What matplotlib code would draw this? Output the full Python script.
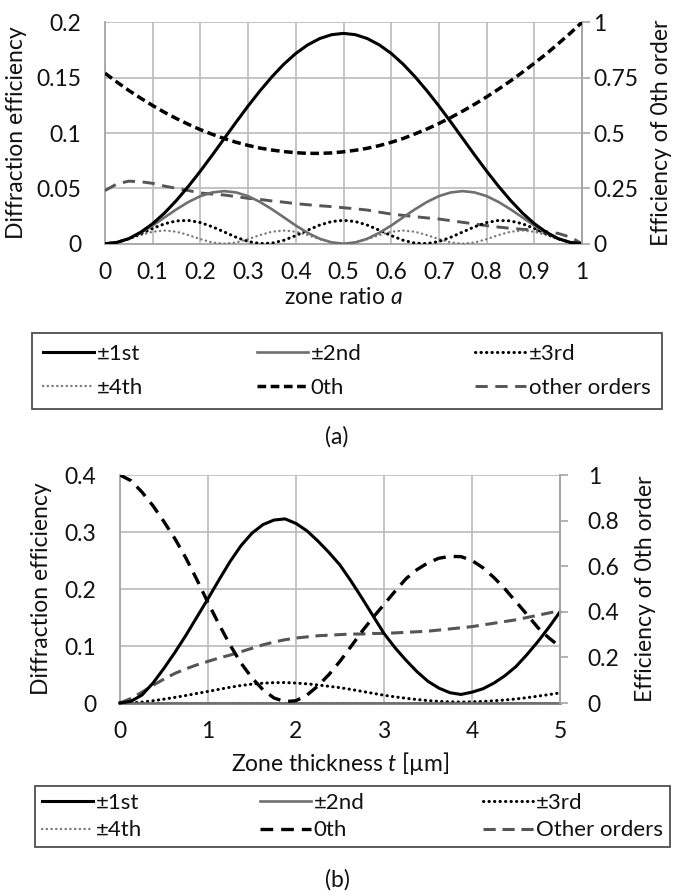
import matplotlib
matplotlib.use('Agg')
import matplotlib.pyplot as plt
from matplotlib.lines import Line2D

plt.rcParams['font.family'] = ['Lato', 'DejaVu Sans']
plt.rcParams['mathtext.fontset'] = 'custom'
plt.rcParams['mathtext.rm'] = 'Lato'
plt.rcParams['mathtext.it'] = 'Lato:italic'

# ---------------- data (a) : zone ratio ----------------
a_ratio = [0.000, 0.025, 0.050, 0.075, 0.100, 0.125, 0.150, 0.175, 0.200, 0.225,
           0.250, 0.275, 0.300, 0.325, 0.350, 0.375, 0.400, 0.425, 0.450, 0.475,
           0.500, 0.525, 0.550, 0.575, 0.600, 0.625, 0.650, 0.675, 0.700, 0.725,
           0.750, 0.775, 0.800, 0.825, 0.850, 0.875, 0.900, 0.925, 0.950, 0.975, 1.000]
a_first = [0, 0.0012, 0.0046, 0.0104, 0.0181, 0.0278, 0.0392, 0.0519, 0.0656, 0.0801,
           0.0950, 0.1099, 0.1244, 0.1381, 0.1508, 0.1622, 0.1719, 0.1796, 0.1853, 0.1888,
           0.1900, 0.1888, 0.1853, 0.1796, 0.1719, 0.1622, 0.1508, 0.1381, 0.1244, 0.1099,
           0.0950, 0.0801, 0.0656, 0.0519, 0.0392, 0.0278, 0.0181, 0.0104, 0.0046, 0.0012, 0]
a_second = [0, 0.0012, 0.0045, 0.0098, 0.0164, 0.0238, 0.0311, 0.0377, 0.0430, 0.0463,
            0.0475, 0.0463, 0.0430, 0.0377, 0.0311, 0.0238, 0.0164, 0.0098, 0.0045, 0.0012,
            0, 0.0012, 0.0045, 0.0098, 0.0164, 0.0238, 0.0311, 0.0377, 0.0430, 0.0463,
            0.0475, 0.0463, 0.0430, 0.0377, 0.0311, 0.0238, 0.0164, 0.0098, 0.0045, 0.0012, 0]
a_third = [0, 0.0012, 0.0044, 0.0089, 0.0138, 0.0180, 0.0206, 0.0210, 0.0191, 0.0153,
           0.0106, 0.0058, 0.0020, 0.0001, 0.0005, 0.0031, 0.0073, 0.0122, 0.0168, 0.0200,
           0.0211, 0.0200, 0.0168, 0.0122, 0.0073, 0.0031, 0.0005, 0.0001, 0.0020, 0.0058,
           0.0106, 0.0153, 0.0191, 0.0210, 0.0206, 0.0180, 0.0138, 0.0089, 0.0044, 0.0012, 0]
a_fourth = [0, 0.0011, 0.0041, 0.0078, 0.0108, 0.0119, 0.0108, 0.0078, 0.0041, 0.0011,
            0, 0.0011, 0.0041, 0.0078, 0.0108, 0.0119, 0.0108, 0.0078, 0.0041, 0.0011,
            0, 0.0011, 0.0041, 0.0078, 0.0108, 0.0119, 0.0108, 0.0078, 0.0041, 0.0011,
            0, 0.0011, 0.0041, 0.0078, 0.0108, 0.0119, 0.0108, 0.0078, 0.0041, 0.0011, 0]
a_zeroth = [0.770, 0.730, 0.692, 0.657, 0.624, 0.593, 0.565, 0.539, 0.515, 0.494,
            0.475, 0.458, 0.444, 0.432, 0.423, 0.416, 0.411, 0.408, 0.408, 0.410,
            0.415, 0.422, 0.431, 0.443, 0.458, 0.475, 0.496, 0.518, 0.543, 0.570,
            0.599, 0.630, 0.663, 0.698, 0.735, 0.774, 0.815, 0.857, 0.903, 0.950, 1.000]
a_other = [0.048, 0.054, 0.0565, 0.056, 0.0545, 0.052, 0.050, 0.048, 0.0458, 0.0448,
           0.0440, 0.0425, 0.041, 0.040, 0.0386, 0.0375, 0.0362, 0.0352, 0.0343, 0.0335,
           0.0325, 0.0315, 0.0304, 0.0285, 0.0268, 0.0256, 0.0244, 0.0233, 0.0223, 0.0208,
           0.0193, 0.0178, 0.0163, 0.0150, 0.0139, 0.0130, 0.0123, 0.0110, 0.0093, 0.0060, 0.0]

a_xticks = [0, 0.1, 0.2, 0.3, 0.4, 0.5, 0.6, 0.7, 0.8, 0.9, 1.0]
a_xticklabels = ['0', '0.1', '0.2', '0.3', '0.4', '0.5', '0.6', '0.7', '0.8', '0.9', '1']
a_yticks = [0, 0.05, 0.1, 0.15, 0.2]
a_yticklabels = ['0', '0.05', '0.1', '0.15', '0.2']
a_rticks = [0, 0.25, 0.5, 0.75, 1.0]
a_rticklabels = ['0', '0.25', '0.5', '0.75', '1']

# ---------------- data (b) : zone thickness ----------------
b_t = [0.000, 0.125, 0.250, 0.375, 0.500, 0.625, 0.750, 0.875, 1.000, 1.125,
       1.250, 1.375, 1.500, 1.625, 1.750, 1.875, 2.000, 2.125, 2.250, 2.375,
       2.500, 2.625, 2.750, 2.875, 3.000, 3.125, 3.250, 3.375, 3.500, 3.625,
       3.750, 3.875, 4.000, 4.125, 4.250, 4.375, 4.500, 4.625, 4.750, 4.875, 5.000]
b_first = [0, 0.003, 0.014, 0.035, 0.061, 0.089, 0.119, 0.151, 0.183, 0.216,
           0.248, 0.276, 0.298, 0.313, 0.321, 0.323, 0.315, 0.302, 0.284, 0.264,
           0.242, 0.214, 0.184, 0.153, 0.122, 0.097, 0.075, 0.055, 0.038, 0.026,
           0.018, 0.015, 0.019, 0.025, 0.035, 0.048, 0.064, 0.085, 0.108, 0.133, 0.160]
b_second = [0, 0, 0, 0, 0, 0, 0, 0, 0, 0, 0, 0, 0, 0, 0, 0, 0, 0, 0, 0, 0,
            0, 0, 0, 0, 0, 0, 0, 0, 0, 0, 0, 0, 0, 0, 0, 0, 0, 0, 0, 0]
b_third = [0, 0.0003, 0.0016, 0.0039, 0.0068, 0.0099, 0.0132, 0.0168, 0.0203, 0.0240,
           0.0276, 0.0307, 0.0331, 0.0348, 0.0357, 0.0359, 0.0350, 0.0336, 0.0316, 0.0293,
           0.0269, 0.0238, 0.0204, 0.0170, 0.0136, 0.0108, 0.0083, 0.0061, 0.0042, 0.0029,
           0.0020, 0.0017, 0.0021, 0.0028, 0.0039, 0.0053, 0.0071, 0.0094, 0.0120, 0.0148, 0.0178]
b_fourth = [0, 0, 0, 0, 0, 0, 0, 0, 0, 0, 0, 0, 0, 0, 0, 0, 0, 0, 0, 0, 0,
            0, 0, 0, 0, 0, 0, 0, 0, 0, 0, 0, 0, 0, 0, 0, 0, 0, 0, 0, 0]
b_zeroth = [1.0, 0.975, 0.925, 0.865, 0.795, 0.720, 0.635, 0.540, 0.440, 0.345,
            0.255, 0.175, 0.110, 0.058, 0.022, 0.006, 0.010, 0.035, 0.075, 0.125,
            0.183, 0.248, 0.314, 0.375, 0.432, 0.490, 0.545, 0.585, 0.615, 0.635,
            0.643, 0.642, 0.625, 0.593, 0.550, 0.500, 0.444, 0.388, 0.330, 0.285, 0.247]
b_other = [0.0, 0.008, 0.019, 0.031, 0.042, 0.052, 0.060, 0.067, 0.073, 0.079,
           0.084, 0.090, 0.096, 0.102, 0.107, 0.111, 0.114, 0.116, 0.118, 0.119,
           0.120, 0.121, 0.121, 0.122, 0.122, 0.123, 0.124, 0.125, 0.126, 0.128,
           0.130, 0.132, 0.134, 0.137, 0.140, 0.143, 0.146, 0.150, 0.154, 0.158, 0.162]

b_xticks = [0, 1, 2, 3, 4, 5]
b_xticklabels = ['0', '1', '2', '3', '4', '5']
b_yticks = [0, 0.1, 0.2, 0.3, 0.4]
b_yticklabels = ['0', '0.1', '0.2', '0.3', '0.4']
b_rticks = [0, 0.2, 0.4, 0.6, 0.8, 1.0]
b_rticklabels = ['0', '0.2', '0.4', '0.6', '0.8', '1']

labels_a = ['±1st', '±2nd', '±3rd', '±4th', '0th', 'other orders']
labels_b = ['±1st', '±2nd', '±3rd', '±4th', '0th', 'Other orders']

# ---------------- styles ----------------
W, H = 675, 896
GRID = '#bfbfbf'
SPINE = '#a6a6a6'
TXT = '#111111'
GRAY2 = '#6f6f6f'
GRAYO = '#555555'
FS = 16.5
LFS = 16

sty_a = {
    'first': dict(color='black', lw=2.2, ls='-'),
    'second': dict(color=GRAY2, lw=1.9, ls='-'),
    'third': dict(color='black', lw=2.2, ls=(0, (0.1, 1.7)), dash_capstyle='round'),
    'fourth': dict(color='#777777', lw=1.7, ls=(0, (0.1, 1.9)), dash_capstyle='round'),
    'zeroth': dict(color='black', lw=2.5, ls=(0, (2.5, 1.3))),
    'other': dict(color=GRAYO, lw=2.1, ls=(0, (4.2, 2.6))),
}
sty_b = dict(sty_a)
sty_b['zeroth'] = dict(color='black', lw=2.4, ls=(0, (3.8, 2.4)))
sty_b['other'] = dict(color=GRAYO, lw=2.2, ls=(0, (4.0, 2.2)))

fig = plt.figure(figsize=(W / 100, H / 100), dpi=100)


def fx(px):
    return px / W


def fy(py):
    return 1 - py / H


def style_axes(ax, axr, xt, xtl, yt, ytl, rt, rtl, xlim, ylim, rpad):
    ax.set_xlim(*xlim)
    ax.set_ylim(*ylim)
    axr.set_ylim(0, 1)
    ax.set_xticks(xt)
    ax.set_xticklabels(xtl)
    ax.set_yticks(yt)
    ax.set_yticklabels(ytl)
    axr.set_yticks(rt)
    axr.set_yticklabels(rtl)
    ax.grid(True, color=GRID, lw=1.3)
    ax.set_axisbelow(True)
    ax.tick_params(axis='x', length=0, labelsize=FS, pad=13, colors=TXT)
    ax.tick_params(axis='y', length=0, labelsize=FS, pad=17, colors=TXT)
    axr.tick_params(axis='y', length=6, width=1.2, color=SPINE, direction='out',
                    labelsize=FS, pad=rpad, labelcolor=TXT)
    ax.spines['top'].set_visible(False)
    axr.spines['top'].set_visible(False)
    for s in ['left', 'bottom', 'right']:
        ax.spines[s].set_color(SPINE)
        ax.spines[s].set_linewidth(1.3)
    axr.spines['right'].set_color(SPINE)
    axr.spines['right'].set_linewidth(1.3)
    axr.spines['left'].set_visible(False)
    axr.spines['bottom'].set_visible(False)


def draw(ax, axr, sty, x, first, second, third, fourth, zeroth, other):
    ax.plot(x, other, **sty['other'], zorder=3)
    ax.plot(x, fourth, **sty['fourth'], zorder=4)
    ax.plot(x, third, **sty['third'], zorder=4)
    ax.plot(x, second, **sty['second'], zorder=5)
    ax.plot(x, first, **sty['first'], zorder=6)
    axr.plot(x, zeroth, **sty['zeroth'], zorder=6)


def legend(sty, labels, x0, y0, x1, fs, lspace, bpad):
    keys = ['first', 'second', 'third', 'fourth', 'zeroth', 'other']
    handles = [Line2D([], [], **sty[k]) for k in keys]
    order = [0, 3, 1, 4, 2, 5]
    leg = fig.legend([handles[i] for i in order], [labels[i] for i in order],
                     loc='upper left', ncol=3, mode='expand',
                     bbox_to_anchor=(fx(x0), fy(y0), fx(x1) - fx(x0), 0.0001),
                     bbox_transform=fig.transFigure,
                     fontsize=fs, frameon=True, fancybox=False, shadow=False,
                     handlelength=2.3, handletextpad=0.12, borderaxespad=0,
                     labelspacing=lspace, borderpad=bpad, columnspacing=1.0)
    fr = leg.get_frame()
    fr.set_edgecolor('#222222')
    fr.set_linewidth(1.3)
    for t in leg.get_texts():
        t.set_color(TXT)
    return leg


# ---------------- chart (a) ----------------
L, R, T, B = 105, 582, 22.3, 243.7
ax1 = fig.add_axes([fx(L), fy(B), fx(R) - fx(L), fy(T) - fy(B)])
ax1r = ax1.twinx()
style_axes(ax1, ax1r, a_xticks, a_xticklabels, a_yticks, a_yticklabels,
           a_rticks, a_rticklabels, (0, 1), (0, 0.2), 2)
draw(ax1, ax1r, sty_a, a_ratio, a_first, a_second, a_third, a_fourth, a_zeroth, a_other)
fig.text(fx((L + R) / 2), fy(297), 'zone ratio $a$', ha='center', va='center',
         fontsize=FS, color=TXT)
fig.text(fx(17), fy((T + B) / 2), 'Diffraction efficiency', rotation=90,
         ha='center', va='center', fontsize=FS, color=TXT)
fig.text(fx(661), fy((T + B) / 2), 'Efficiency of 0th order', rotation=90,
         ha='center', va='center', fontsize=FS, color=TXT)
legend(sty_a, labels_a, 32, 333, 662, LFS, 0.62, 0.5)
fig.text(fx(337), fy(437), '(a)', ha='center', va='center', fontsize=FS, color=TXT)

# ---------------- chart (b) ----------------
L2, R2, T2, B2 = 120, 560, 475, 703
ax2 = fig.add_axes([fx(L2), fy(B2), fx(R2) - fx(L2), fy(T2) - fy(B2)])
ax2r = ax2.twinx()
style_axes(ax2, ax2r, b_xticks, b_xticklabels, b_yticks, b_yticklabels,
           b_rticks, b_rticklabels, (0, 5), (0, 0.4), 14)
draw(ax2, ax2r, sty_b, b_t, b_first, b_second, b_third, b_fourth, b_zeroth, b_other)
for ln in ax2.get_lines():
    ln.set_clip_on(False)
fig.text(fx((L2 + R2) / 2), fy(763), 'Zone thickness $t$ [µm]', ha='center', va='center',
         fontsize=FS, color=TXT)
fig.text(fx(42), fy((T2 + B2) / 2), 'Diffraction efficiency', rotation=90,
         ha='center', va='center', fontsize=FS, color=TXT)
fig.text(fx(645), fy((T2 + B2) / 2), 'Efficiency of 0th order', rotation=90,
         ha='center', va='center', fontsize=FS, color=TXT)
legend(sty_b, labels_b, 35, 786, 670, LFS, 0.35, 0.3)
fig.text(fx(337), fy(880), '(b)', ha='center', va='center', fontsize=FS, color=TXT)

fig.savefig('out.png', dpi=100)
